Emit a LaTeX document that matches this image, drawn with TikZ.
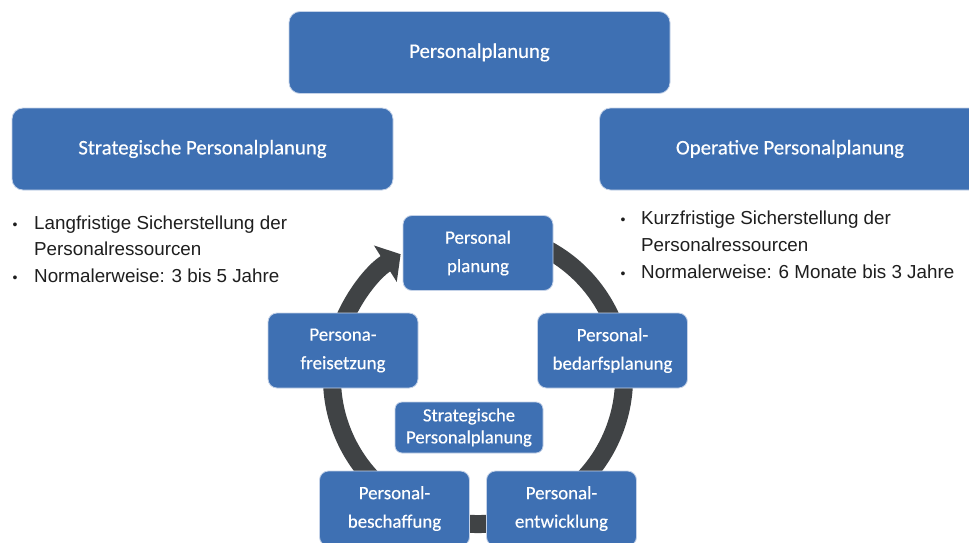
\documentclass[tikz,border=0pt]{standalone}
\usepackage{fontspec}
\setmainfont{Liberation Sans}
\newfontfamily\boxfont[FakeBold=0.35]{Carlito}
\usetikzlibrary{arrows.meta}
\definecolor{boxblue}{RGB}{62,112,179}
\definecolor{boxedge}{RGB}{196,210,232}
\definecolor{ringgray}{RGB}{64,67,69}
\definecolor{bodytext}{RGB}{30,30,30}
\begin{document}
\begin{tikzpicture}[x=1pt,y=1pt,
  panel/.style={draw=boxedge, line width=0.8pt, fill=boxblue, inner sep=0pt,
    text=white, align=center},
  bigbox/.style={panel, rounded corners=11pt, minimum width=381pt,
    minimum height=82pt, font=\boxfont\fontsize{20.8}{25}\selectfont},
  cyclebox/.style={panel, rounded corners=9pt, minimum width=150pt,
    minimum height=75pt, font=\boxfont\fontsize{18.9}{28.5}\selectfont},
  hubbox/.style={panel, rounded corners=7pt, minimum width=148pt,
    minimum height=51pt, font=\boxfont\fontsize{18.6}{22}\selectfont},
  dot/.style={anchor=base, inner sep=0pt, text=bodytext,
    font=\fontsize{14}{14}\selectfont},
  line/.style={anchor=base west, inner sep=0pt, text=bodytext,
    font=\fontsize{18.8}{22}\selectfont},
  ring/.style={draw=ringgray, line width=18pt,
    -{Triangle[width=42pt,length=18pt]}}
]
\useasboundingbox (0,0) rectangle (969,-543);
\clip (0,0) rectangle (969,-543);
\fill[white] (0,0) rectangle (969,-543);

% cycle ring with arrow head ending at the top box
\coordinate (hubc) at (478,-378);
\draw[ring] (hubc) ++(70:146) arc[start angle=70, end angle=-238, radius=146];

% header boxes
\node[bigbox] (top)   at (479.5,-52.5) {Personalplanung};
\node[bigbox] (strat) at (202.5,-149)  {Strategische Personalplanung};
\node[bigbox] (oper)  at (790,-149)    {Operative Personalplanung};

% bullet lists
\node[dot]  (ld1) at (15,-229)  {\textbullet};
\node[line] (lt1) at (34,-229)  {Langfristige Sicherstellung der};
\node[line] (lt2) at (34,-255)  {Personalressourcen};
\node[dot]  (ld2) at (15,-282)  {\textbullet};
\node[line] (lt3) at (34,-282)  {Normalerweise: 3 bis 5 Jahre};

\node[dot]  (rd1) at (623,-224) {\textbullet};
\node[line] (rt1) at (641,-224) {Kurzfristige Sicherstellung der};
\node[line] (rt2) at (641,-251) {Personalressourcen};
\node[dot]  (rd2) at (623,-278) {\textbullet};
\node[line] (rt3) at (641,-278) {Normalerweise: 6 Monate bis 3 Jahre};

% cycle steps
\node[cyclebox] (plan)  at (478,-253)   {Personal\\planung};
\node[cyclebox] (bedarf) at (612.5,-350.5) {Personal-\\bedarfsplanung};
\node[cyclebox] (entw)  at (561.5,-508.5) {Personal-\\entwicklung};
\node[cyclebox] (besch) at (394.5,-508.5) {Personal-\\beschaffung};
\node[cyclebox] (frei)  at (343,-350.5)   {Persona-\\freisetzung};
\node[hubbox]   (hub)   at (469,-427.5)   {Strategische\\Personalplanung};
\end{tikzpicture}
\end{document}
